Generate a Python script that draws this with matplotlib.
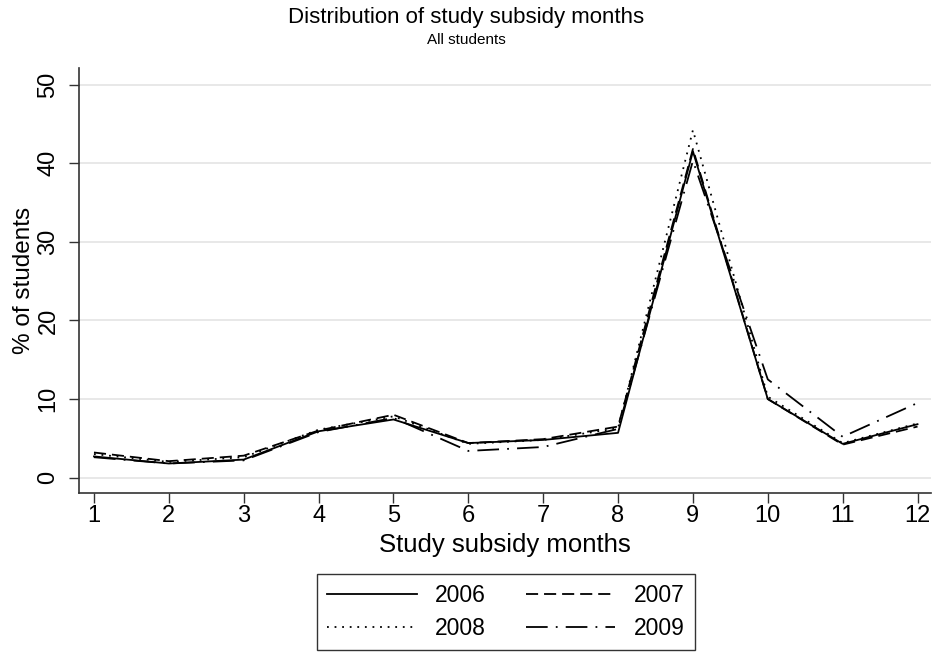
import matplotlib
matplotlib.use("Agg")
import matplotlib.pyplot as plt

months = [1, 2, 3, 4, 5, 6, 7, 8, 9, 10, 11, 12]
years = ["2006", "2007", "2008", "2009"]
share_2006 = [2.7, 1.8, 2.3, 5.9, 7.4, 4.4, 4.8, 5.7, 41.5, 10.0, 4.3, 6.8]
share_2007 = [3.2, 2.1, 2.8, 6.0, 8.0, 4.4, 4.9, 6.5, 41.8, 10.0, 4.2, 6.5]
share_2008 = [3.0, 2.0, 2.6, 6.1, 7.8, 4.3, 4.8, 6.3, 44.2, 10.3, 4.4, 6.9]
share_2009 = [2.6, 1.8, 2.2, 5.8, 7.6, 3.4, 3.9, 6.2, 40.3, 12.5, 5.2, 9.5]

plt.rcParams["font.family"] = ["Liberation Sans", "DejaVu Sans"]

W, H = 933, 655
fig = plt.figure(figsize=(W / 100, H / 100), dpi=100)
ax = fig.add_axes([79 / W, 1 - 493 / H, (931 - 79) / W, (493 - 68) / H])

styles = [
    dict(linestyle="-"),
    dict(linestyle=(0, (6.7, 3.3))),
    dict(linestyle=(0, (1, 3.2))),
    dict(linestyle=(0, (12, 4.5, 1, 4.5))),
]
lines = []
for label, vals, st in zip(years, [share_2006, share_2007, share_2008, share_2009], styles):
    ln, = ax.plot(months, vals, color="black", lw=1.3, label=label, **st)
    lines.append(ln)

ax.set_xlim(0.8, 12.18)
ax.set_ylim(-1.95, 52.1)
ax.set_xticks(months)
ax.set_yticks([0, 10, 20, 30, 40, 50])
ax.grid(axis="y", color="#e8e8e8", lw=1.4)
ax.set_axisbelow(True)
for s in ["top", "right"]:
    ax.spines[s].set_visible(False)
for s in ["left", "bottom"]:
    ax.spines[s].set_color("#333333")
    ax.spines[s].set_linewidth(1.2)
ax.tick_params(labelsize=17, length=7, color="#333333", width=1)
ax.tick_params(axis="y", pad=7)
ax.tick_params(axis="x", pad=2)
for lab in ax.get_yticklabels():
    lab.set_rotation(90)
    lab.set_va("center")
ax.set_xlabel("Study subsidy months", fontsize=18.5, labelpad=4)
ax.set_ylabel("% of students", fontsize=17.5, labelpad=2)

fig.text(466 / W, 1 - 18 / H, "Distribution of study subsidy months", fontsize=16,
         ha="center", va="center")
fig.text(466 / W, 1 - 40 / H, "All students", fontsize=11, ha="center", va="center")

# row-wise order: 2006 2007 / 2008 2009
order = [0, 2, 1, 3]
leg = fig.legend([lines[i] for i in order], [years[i] for i in order],
                 loc="center", bbox_to_anchor=(506 / W, 1 - 612 / H), ncol=2,
                 fontsize=16.5, frameon=True, fancybox=False, handlelength=3.9,
                 columnspacing=1.75, handletextpad=0.8, borderpad=0.45, labelspacing=0.45,
                 borderaxespad=0)
leg.get_frame().set_edgecolor("black")
leg.get_frame().set_linewidth(1.0)

fig.savefig("out.png", dpi=100)
